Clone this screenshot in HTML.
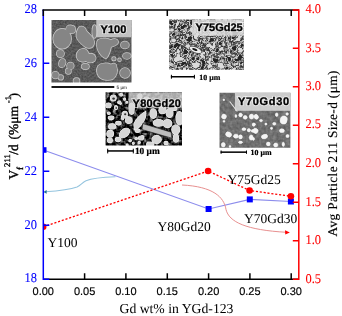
<!DOCTYPE html>
<html><head><meta charset="utf-8">
<style>
html,body{margin:0;padding:0;background:#fff;width:342px;height:316px;overflow:hidden}
svg{display:block;will-change:transform;text-rendering:geometricPrecision}
.sr{font-family:"Liberation Serif",serif}
.ss{font-family:"Liberation Sans",sans-serif}
.lab{font-weight:bold;fill:#000;stroke:#000;stroke-width:0.35px}
.halo{font-weight:bold;fill:#fff;stroke:#fff;stroke-opacity:0.6;stroke-width:2.2px;fill-opacity:0.6}
</style></head><body>
<svg width="342" height="316" viewBox="0 0 342 316">
<defs>
<filter id="soft" x="-5%" y="-5%" width="110%" height="110%"><feGaussianBlur stdDeviation="0.45"/></filter>
<filter id="n80" x="0" y="0" width="100%" height="100%" color-interpolation-filters="sRGB">
 <feTurbulence type="fractalNoise" baseFrequency="0.3" numOctaves="2" seed="3"/>
 <feColorMatrix type="matrix" values="1.5 0 0 0 -0.62  1.5 0 0 0 -0.62  1.5 0 0 0 -0.62  0 0 0 0 1"/>
</filter>
<filter id="n100" x="0" y="0" width="100%" height="100%" color-interpolation-filters="sRGB">
 <feTurbulence type="fractalNoise" baseFrequency="0.55" numOctaves="2" seed="5"/>
 <feColorMatrix type="matrix" values="0.22 0 0 0 0.24  0.22 0 0 0 0.24  0.22 0 0 0 0.24  0 0 0 0 1"/>
</filter>
<filter id="n70" x="0" y="0" width="100%" height="100%" color-interpolation-filters="sRGB">
 <feTurbulence type="fractalNoise" baseFrequency="0.3" numOctaves="2" seed="9"/>
 <feColorMatrix type="matrix" values="0.25 0 0 0 0.31  0.25 0 0 0 0.31  0.25 0 0 0 0.31  0 0 0 0 1"/>
</filter>
<filter id="speck" x="0" y="0" width="100%" height="100%" color-interpolation-filters="sRGB">
 <feTurbulence type="fractalNoise" baseFrequency="0.16" numOctaves="3" seed="4"/>
 <feColorMatrix type="matrix" values="3 0 0 0 -1  3 0 0 0 -1  3 0 0 0 -1  0 0 0 0 1"/>
 <feComponentTransfer><feFuncR type="table" tableValues="0.15 0.52 0.86 0.45 0.18 0.52 0.86"/><feFuncG type="table" tableValues="0.15 0.52 0.86 0.45 0.18 0.52 0.86"/><feFuncB type="table" tableValues="0.15 0.52 0.86 0.45 0.18 0.52 0.86"/></feComponentTransfer>
 <feGaussianBlur stdDeviation="0.5"/>
</filter>
</defs>
<rect width="342" height="316" fill="#fff"/>
<clipPath id="c100"><rect x="51.5" y="20" width="80" height="62.5"/></clipPath><g clip-path="url(#c100)"><g filter="url(#soft)"><rect x="51.5" y="20" width="80" height="62.5" fill="#575757" filter="url(#n100)"/><g fill="#c8c8c8" stroke="#c8c8c8" stroke-width="1.5"><ellipse cx="62.2" cy="38.8" rx="9.0" ry="10.0"/><ellipse cx="70.1" cy="29.3" rx="4.0" ry="4.0"/><path d="M79.5,27 C82.5,25.5 86,27.5 86,30.5 C88.5,33.5 92,36 93.5,39.5 C95,42.5 94,46 91.5,47.5 C88.5,48.5 85.5,47.5 84,46 C81,43.5 77,40 76.5,36.5 C76,33 77.5,29 79.5,27 Z"/><path d="M78,51.5 C80,48.5 84,48 86.5,50 C88.5,52 88.5,53.5 89,54 C91.5,53 94.5,54 95.5,57 C96.5,60 94,62.5 90,62.5 C88,62.5 86.5,61.5 86,61 C83,62.5 79,61.5 77.5,59 C76,56.5 76.5,53.5 78,51.5 Z"/><path d="M98,40 C102,37.5 108,38.5 111,40 C113,38.5 117,38.5 118,41 C119,44 115,46 111,47 C110,52 108,57 106,58.5 C102,57 99,53 97.5,49 C96.5,45 96.5,42 98,40 Z"/><ellipse cx="94.5" cy="31.5" rx="2.2" ry="6.5"/><path d="M98,66 C101,62.5 108,63 111,64.5 C114,62.5 117,64 116.5,67 C118,70 117,76 113,79 C108,81 101,80 98.5,76 C96.5,73 96.5,69 98,66 Z"/><ellipse cx="124.9" cy="45.0" rx="4.0" ry="3.5"/><ellipse cx="126.9" cy="55.9" rx="4.0" ry="3.0"/><ellipse cx="125.0" cy="73.0" rx="5.0" ry="5.0"/><ellipse cx="60.4" cy="53.6" rx="3.7" ry="3.7"/><ellipse cx="62.2" cy="63.1" rx="3.2" ry="4.3" transform="rotate(20 62.2 63.1)"/><ellipse cx="70.4" cy="65.9" rx="3.4" ry="3.4"/><ellipse cx="68.3" cy="71.3" rx="2.7" ry="2.7"/><ellipse cx="55.4" cy="75.1" rx="3.4" ry="3.4"/><ellipse cx="60.8" cy="77.4" rx="2.4" ry="2.4"/><ellipse cx="85.3" cy="66.5" rx="3.7" ry="2.7"/><ellipse cx="76.5" cy="81.0" rx="3.0" ry="3.0"/><ellipse cx="113.9" cy="58.8" rx="1.8" ry="1.8"/><ellipse cx="119.5" cy="59.8" rx="1.5" ry="1.5"/><ellipse cx="73.0" cy="29.5" rx="2.2" ry="3.5"/></g><g fill="#858585"><ellipse cx="62.2" cy="38.8" rx="9.0" ry="10.0"/><ellipse cx="70.1" cy="29.3" rx="4.0" ry="4.0"/><path d="M79.5,27 C82.5,25.5 86,27.5 86,30.5 C88.5,33.5 92,36 93.5,39.5 C95,42.5 94,46 91.5,47.5 C88.5,48.5 85.5,47.5 84,46 C81,43.5 77,40 76.5,36.5 C76,33 77.5,29 79.5,27 Z"/><path d="M78,51.5 C80,48.5 84,48 86.5,50 C88.5,52 88.5,53.5 89,54 C91.5,53 94.5,54 95.5,57 C96.5,60 94,62.5 90,62.5 C88,62.5 86.5,61.5 86,61 C83,62.5 79,61.5 77.5,59 C76,56.5 76.5,53.5 78,51.5 Z"/><path d="M98,40 C102,37.5 108,38.5 111,40 C113,38.5 117,38.5 118,41 C119,44 115,46 111,47 C110,52 108,57 106,58.5 C102,57 99,53 97.5,49 C96.5,45 96.5,42 98,40 Z"/><ellipse cx="94.5" cy="31.5" rx="2.2" ry="6.5"/><path d="M98,66 C101,62.5 108,63 111,64.5 C114,62.5 117,64 116.5,67 C118,70 117,76 113,79 C108,81 101,80 98.5,76 C96.5,73 96.5,69 98,66 Z"/><ellipse cx="124.9" cy="45.0" rx="4.0" ry="3.5"/><ellipse cx="126.9" cy="55.9" rx="4.0" ry="3.0"/><ellipse cx="125.0" cy="73.0" rx="5.0" ry="5.0"/><ellipse cx="60.4" cy="53.6" rx="3.7" ry="3.7"/><ellipse cx="62.2" cy="63.1" rx="3.2" ry="4.3" transform="rotate(20 62.2 63.1)"/><ellipse cx="70.4" cy="65.9" rx="3.4" ry="3.4"/><ellipse cx="68.3" cy="71.3" rx="2.7" ry="2.7"/><ellipse cx="55.4" cy="75.1" rx="3.4" ry="3.4"/><ellipse cx="60.8" cy="77.4" rx="2.4" ry="2.4"/><ellipse cx="85.3" cy="66.5" rx="3.7" ry="2.7"/><ellipse cx="76.5" cy="81.0" rx="3.0" ry="3.0"/><ellipse cx="113.9" cy="58.8" rx="1.8" ry="1.8"/><ellipse cx="119.5" cy="59.8" rx="1.5" ry="1.5"/><ellipse cx="73.0" cy="29.5" rx="2.2" ry="3.5"/></g></g><rect x="96.3" y="20" width="35.2" height="17.3" fill="#d0d0d0" fill-opacity="0.88"/></g><text x="100.6" y="33.2" class="ss halo" font-size="11">Y100</text><text x="100.6" y="33.2" class="ss lab" font-size="11">Y100</text><rect x="51.5" y="86.1" width="62.8" height="1.8" fill="#000"/><text x="116.6" y="88.7" class="ss" font-size="4.6" fill="#000">5 μm</text><clipPath id="c75"><rect x="169.2" y="19.5" width="74.6" height="50.3"/></clipPath><g clip-path="url(#c75)"><rect x="169.2" y="19.5" width="74.6" height="50.3" fill="#808080" filter="url(#speck)"/><ellipse cx="195.5" cy="49.9" rx="6.6" ry="2.9" transform="rotate(22 195.5 49.9)" fill="#eeeeee" stroke="#222" stroke-width="0.6"/><ellipse cx="194.8" cy="49.5" rx="2.8" ry="1.1" transform="rotate(22 194.8 49.5)" fill="#151515"/><rect x="192" y="19.5" width="52" height="16.2" fill="#dedede" fill-opacity="0.85"/></g><text x="195.6" y="30.8" class="ss halo" font-size="11">Y75Gd25</text><text x="195.6" y="30.8" class="ss lab" font-size="11">Y75Gd25</text><g fill="#000"><rect x="170.9" y="76.0" width="24.0" height="1.5"/><rect x="170.9" y="74.8" width="1" height="3.9"/><rect x="193.9" y="74.8" width="1" height="3.9"/></g><text x="199.3" y="79.5" class="sr" font-weight="bold" font-size="7.9" fill="#000" stroke="#000" stroke-width="0.2">10 μm</text><clipPath id="c80"><rect x="105.6" y="92.2" width="76.4" height="53.4"/></clipPath><g clip-path="url(#c80)"><g filter="url(#soft)"><rect x="105.6" y="92.2" width="76.4" height="53.4" fill="#262626" filter="url(#n80)"/><g fill="#eeeeee" stroke="#eeeeee" stroke-width="1.2"><ellipse cx="113.3" cy="97.9" rx="2.8" ry="2.9"/><ellipse cx="108.5" cy="105.4" rx="2.6" ry="2.3"/><ellipse cx="116.0" cy="107.6" rx="1.5" ry="2.0"/><ellipse cx="119.3" cy="102.3" rx="1.6" ry="1.4"/><ellipse cx="121.1" cy="94.7" rx="1.4" ry="1.4"/><ellipse cx="124.6" cy="99.2" rx="1.0" ry="1.0"/><ellipse cx="124.9" cy="113.7" rx="2.4" ry="2.4"/><ellipse cx="108.8" cy="113.3" rx="1.4" ry="1.2"/><ellipse cx="111.1" cy="117.8" rx="2.8" ry="1.8"/><ellipse cx="131.6" cy="108.7" rx="2.6" ry="5.6"/><ellipse cx="128.2" cy="118.3" rx="2.0" ry="1.4"/><ellipse cx="126.8" cy="102.3" rx="0.9" ry="0.9"/><ellipse cx="120.6" cy="103.6" rx="0.8" ry="0.8"/><ellipse cx="112.2" cy="126.4" rx="3.5" ry="2.6"/><ellipse cx="110.2" cy="133.7" rx="3.3" ry="3.3"/><ellipse cx="109.9" cy="140.2" rx="2.4" ry="2.4"/><ellipse cx="118.4" cy="123.1" rx="2.7" ry="1.8"/><ellipse cx="124.5" cy="133.0" rx="5.8" ry="3.8" transform="rotate(-40 124.5 133.0)"/><ellipse cx="118.0" cy="139.5" rx="2.6" ry="2.2"/><ellipse cx="128.8" cy="120.3" rx="3.2" ry="3.2"/><ellipse cx="124.4" cy="116.5" rx="2.9" ry="1.5"/><path d="M134.5,129.5 L134,124 C135.5,119.5 140,115 145.5,111.5 C146.5,115.5 145,120 141.5,124.5 C139,127.5 136.5,129.5 134.5,129.5 Z"/><ellipse cx="130.2" cy="140.5" rx="1.2" ry="1.1"/><ellipse cx="133.3" cy="143.3" rx="1.0" ry="1.0"/><ellipse cx="136.2" cy="138.6" rx="1.3" ry="1.1"/><ellipse cx="139.3" cy="142.4" rx="1.0" ry="1.0"/><ellipse cx="142.4" cy="136.8" rx="1.2" ry="1.2"/><ellipse cx="127.2" cy="145.0" rx="1.0" ry="0.8"/><ellipse cx="122.7" cy="118.5" rx="0.9" ry="1.4"/><ellipse cx="137.6" cy="130.8" rx="2.4" ry="1.6"/><ellipse cx="153.3" cy="113.6" rx="3.3" ry="4.7"/><ellipse cx="162.5" cy="110.3" rx="3.6" ry="3.4"/><ellipse cx="169.6" cy="113.0" rx="3.4" ry="4.4"/><ellipse cx="174.0" cy="108.5" rx="3.0" ry="2.0"/><ellipse cx="158.6" cy="122.9" rx="5.3" ry="3.3"/><ellipse cx="167.5" cy="123.6" rx="4.3" ry="4.0"/><ellipse cx="175.8" cy="129.6" rx="4.0" ry="4.6"/><ellipse cx="179.5" cy="118.3" rx="3.5" ry="6.6"/><ellipse cx="156.6" cy="139.5" rx="4.6" ry="4.0"/><ellipse cx="150.0" cy="144.5" rx="3.4" ry="2.5"/><ellipse cx="175.9" cy="138.2" rx="2.6" ry="4.0"/><ellipse cx="141.0" cy="138.0" rx="2.5" ry="2.0"/><ellipse cx="166.0" cy="143.0" rx="2.0" ry="1.6"/><ellipse cx="146.5" cy="101.0" rx="3.0" ry="4.0"/><ellipse cx="140.0" cy="96.0" rx="2.0" ry="2.0"/></g><g fill="#d6d6d6"><ellipse cx="113.3" cy="97.9" rx="2.8" ry="2.9"/><ellipse cx="108.5" cy="105.4" rx="2.6" ry="2.3"/><ellipse cx="116.0" cy="107.6" rx="1.5" ry="2.0"/><ellipse cx="119.3" cy="102.3" rx="1.6" ry="1.4"/><ellipse cx="121.1" cy="94.7" rx="1.4" ry="1.4"/><ellipse cx="124.6" cy="99.2" rx="1.0" ry="1.0"/><ellipse cx="124.9" cy="113.7" rx="2.4" ry="2.4"/><ellipse cx="108.8" cy="113.3" rx="1.4" ry="1.2"/><ellipse cx="111.1" cy="117.8" rx="2.8" ry="1.8"/><ellipse cx="131.6" cy="108.7" rx="2.6" ry="5.6"/><ellipse cx="128.2" cy="118.3" rx="2.0" ry="1.4"/><ellipse cx="126.8" cy="102.3" rx="0.9" ry="0.9"/><ellipse cx="120.6" cy="103.6" rx="0.8" ry="0.8"/><ellipse cx="112.2" cy="126.4" rx="3.5" ry="2.6"/><ellipse cx="110.2" cy="133.7" rx="3.3" ry="3.3"/><ellipse cx="109.9" cy="140.2" rx="2.4" ry="2.4"/><ellipse cx="118.4" cy="123.1" rx="2.7" ry="1.8"/><ellipse cx="124.5" cy="133.0" rx="5.8" ry="3.8" transform="rotate(-40 124.5 133.0)"/><ellipse cx="118.0" cy="139.5" rx="2.6" ry="2.2"/><ellipse cx="128.8" cy="120.3" rx="3.2" ry="3.2"/><ellipse cx="124.4" cy="116.5" rx="2.9" ry="1.5"/><path d="M134.5,129.5 L134,124 C135.5,119.5 140,115 145.5,111.5 C146.5,115.5 145,120 141.5,124.5 C139,127.5 136.5,129.5 134.5,129.5 Z"/><ellipse cx="130.2" cy="140.5" rx="1.2" ry="1.1"/><ellipse cx="133.3" cy="143.3" rx="1.0" ry="1.0"/><ellipse cx="136.2" cy="138.6" rx="1.3" ry="1.1"/><ellipse cx="139.3" cy="142.4" rx="1.0" ry="1.0"/><ellipse cx="142.4" cy="136.8" rx="1.2" ry="1.2"/><ellipse cx="127.2" cy="145.0" rx="1.0" ry="0.8"/><ellipse cx="122.7" cy="118.5" rx="0.9" ry="1.4"/><ellipse cx="137.6" cy="130.8" rx="2.4" ry="1.6"/><ellipse cx="153.3" cy="113.6" rx="3.3" ry="4.7"/><ellipse cx="162.5" cy="110.3" rx="3.6" ry="3.4"/><ellipse cx="169.6" cy="113.0" rx="3.4" ry="4.4"/><ellipse cx="174.0" cy="108.5" rx="3.0" ry="2.0"/><ellipse cx="158.6" cy="122.9" rx="5.3" ry="3.3"/><ellipse cx="167.5" cy="123.6" rx="4.3" ry="4.0"/><ellipse cx="175.8" cy="129.6" rx="4.0" ry="4.6"/><ellipse cx="179.5" cy="118.3" rx="3.5" ry="6.6"/><ellipse cx="156.6" cy="139.5" rx="4.6" ry="4.0"/><ellipse cx="150.0" cy="144.5" rx="3.4" ry="2.5"/><ellipse cx="175.9" cy="138.2" rx="2.6" ry="4.0"/><ellipse cx="141.0" cy="138.0" rx="2.5" ry="2.0"/><ellipse cx="166.0" cy="143.0" rx="2.0" ry="1.6"/><ellipse cx="146.5" cy="101.0" rx="3.0" ry="4.0"/><ellipse cx="140.0" cy="96.0" rx="2.0" ry="2.0"/></g><path d="M142.7,123.6 L171.2,132.2 L171.9,138.2 L142,129.6 Z" fill="#bcbcbc" stroke="#1a1a1a" stroke-width="0.6" stroke-linejoin="round"/><g fill="#303030"><ellipse cx="113.6" cy="98.6" rx="1.3" ry="1.2"/><ellipse cx="116.2" cy="108.0" rx="0.7" ry="0.9"/><ellipse cx="125.2" cy="114.3" rx="1.1" ry="1.0"/></g></g><rect x="128.5" y="92.2" width="54" height="15.5" fill="#d8d8d8" fill-opacity="0.78"/></g><text x="132.6" y="106.6" class="ss halo" font-size="11" letter-spacing="0.2">Y80Gd20</text><text x="132.6" y="106.6" class="ss lab" font-size="11" letter-spacing="0.2">Y80Gd20</text><g fill="#000"><rect x="107.2" y="150.2" width="26.6" height="1.5"/><rect x="107.2" y="148.7" width="1" height="4.7"/><rect x="132.8" y="148.7" width="1" height="4.7"/></g><text x="134.9" y="154.3" class="sr" font-weight="bold" font-size="9.4" fill="#000" stroke="#000" stroke-width="0.2">10 μm</text><clipPath id="c70"><rect x="219.5" y="92.8" width="70.9" height="55"/></clipPath><g clip-path="url(#c70)"><g filter="url(#soft)"><rect x="219.5" y="92.8" width="70.9" height="55" fill="#858585" filter="url(#n70)"/><path d="M229.7,101.5 L237.3,111.5" stroke="#e8e8e8" stroke-width="1.1"/><g fill="#dadada" stroke="#dadada" stroke-width="0.6"><ellipse cx="224.0" cy="116.6" rx="2.4" ry="2.4" transform="rotate(30 224.0 116.6)"/><ellipse cx="224.0" cy="121.3" rx="1.0" ry="0.9"/><ellipse cx="235.9" cy="116.0" rx="0.9" ry="1.5"/><ellipse cx="240.6" cy="115.0" rx="1.8" ry="1.9" transform="rotate(20 240.6 115.0)"/><ellipse cx="245.2" cy="117.3" rx="1.9" ry="1.9"/><ellipse cx="251.5" cy="116.6" rx="2.2" ry="2.5"/><ellipse cx="253.9" cy="124.3" rx="1.5" ry="1.3"/><ellipse cx="243.9" cy="129.2" rx="1.9" ry="1.4"/><ellipse cx="248.9" cy="130.3" rx="1.6" ry="1.7"/><ellipse cx="253.1" cy="130.9" rx="1.9" ry="1.3"/><ellipse cx="228.6" cy="134.5" rx="3.0" ry="2.4" transform="rotate(25 228.6 134.5)"/><ellipse cx="235.9" cy="136.2" rx="2.4" ry="2.0"/><ellipse cx="240.5" cy="136.9" rx="1.9" ry="2.1"/><ellipse cx="251.2" cy="137.5" rx="1.9" ry="2.6"/><ellipse cx="240.5" cy="142.2" rx="1.9" ry="1.2"/><ellipse cx="223.3" cy="144.8" rx="2.0" ry="2.2"/><ellipse cx="230.0" cy="146.5" rx="1.0" ry="1.0"/><ellipse cx="256.2" cy="116.8" rx="2.1" ry="2.5" transform="rotate(-40 256.2 116.8)"/><ellipse cx="261.0" cy="120.6" rx="1.5" ry="1.1"/><ellipse cx="253.7" cy="124.8" rx="1.3" ry="1.5"/><ellipse cx="276.7" cy="114.7" rx="1.3" ry="1.8"/><ellipse cx="283.7" cy="120.0" rx="3.4" ry="4.1" transform="rotate(15 283.7 120.0)"/><ellipse cx="287.1" cy="114.0" rx="1.3" ry="1.3"/><ellipse cx="265.9" cy="124.1" rx="1.1" ry="1.1"/><ellipse cx="274.3" cy="123.8" rx="1.6" ry="1.4"/><ellipse cx="255.5" cy="130.8" rx="2.6" ry="2.4" transform="rotate(30 255.5 130.8)"/><ellipse cx="281.9" cy="130.7" rx="2.5" ry="1.9"/><ellipse cx="264.5" cy="136.6" rx="3.1" ry="2.1" transform="rotate(-15 264.5 136.6)"/><ellipse cx="253.4" cy="139.0" rx="1.1" ry="1.4"/><ellipse cx="268.3" cy="144.0" rx="1.9" ry="1.9"/><ellipse cx="275.7" cy="145.0" rx="2.1" ry="2.1"/><ellipse cx="283.3" cy="144.3" rx="1.2" ry="2.1"/><ellipse cx="287.5" cy="136.0" rx="1.6" ry="1.6"/><ellipse cx="271.5" cy="128.3" rx="1.1" ry="1.1"/><ellipse cx="223.8" cy="99.8" rx="0.9" ry="0.9"/></g><g fill="#f4f4f4"><ellipse cx="224.0" cy="116.6" rx="2.4" ry="2.4" transform="rotate(30 224.0 116.6)"/><ellipse cx="224.0" cy="121.3" rx="1.0" ry="0.9"/><ellipse cx="235.9" cy="116.0" rx="0.9" ry="1.5"/><ellipse cx="240.6" cy="115.0" rx="1.8" ry="1.9" transform="rotate(20 240.6 115.0)"/><ellipse cx="245.2" cy="117.3" rx="1.9" ry="1.9"/><ellipse cx="251.5" cy="116.6" rx="2.2" ry="2.5"/><ellipse cx="253.9" cy="124.3" rx="1.5" ry="1.3"/><ellipse cx="243.9" cy="129.2" rx="1.9" ry="1.4"/><ellipse cx="248.9" cy="130.3" rx="1.6" ry="1.7"/><ellipse cx="253.1" cy="130.9" rx="1.9" ry="1.3"/><ellipse cx="228.6" cy="134.5" rx="3.0" ry="2.4" transform="rotate(25 228.6 134.5)"/><ellipse cx="235.9" cy="136.2" rx="2.4" ry="2.0"/><ellipse cx="240.5" cy="136.9" rx="1.9" ry="2.1"/><ellipse cx="251.2" cy="137.5" rx="1.9" ry="2.6"/><ellipse cx="240.5" cy="142.2" rx="1.9" ry="1.2"/><ellipse cx="223.3" cy="144.8" rx="2.0" ry="2.2"/><ellipse cx="230.0" cy="146.5" rx="1.0" ry="1.0"/><ellipse cx="256.2" cy="116.8" rx="2.1" ry="2.5" transform="rotate(-40 256.2 116.8)"/><ellipse cx="261.0" cy="120.6" rx="1.5" ry="1.1"/><ellipse cx="253.7" cy="124.8" rx="1.3" ry="1.5"/><ellipse cx="276.7" cy="114.7" rx="1.3" ry="1.8"/><ellipse cx="283.7" cy="120.0" rx="3.4" ry="4.1" transform="rotate(15 283.7 120.0)"/><ellipse cx="287.1" cy="114.0" rx="1.3" ry="1.3"/><ellipse cx="265.9" cy="124.1" rx="1.1" ry="1.1"/><ellipse cx="274.3" cy="123.8" rx="1.6" ry="1.4"/><ellipse cx="255.5" cy="130.8" rx="2.6" ry="2.4" transform="rotate(30 255.5 130.8)"/><ellipse cx="281.9" cy="130.7" rx="2.5" ry="1.9"/><ellipse cx="264.5" cy="136.6" rx="3.1" ry="2.1" transform="rotate(-15 264.5 136.6)"/><ellipse cx="253.4" cy="139.0" rx="1.1" ry="1.4"/><ellipse cx="268.3" cy="144.0" rx="1.9" ry="1.9"/><ellipse cx="275.7" cy="145.0" rx="2.1" ry="2.1"/><ellipse cx="283.3" cy="144.3" rx="1.2" ry="2.1"/><ellipse cx="287.5" cy="136.0" rx="1.6" ry="1.6"/><ellipse cx="271.5" cy="128.3" rx="1.1" ry="1.1"/><ellipse cx="223.8" cy="99.8" rx="0.9" ry="0.9"/></g></g><rect x="235" y="92.8" width="55.5" height="18" fill="#dcdcdc" fill-opacity="0.85"/></g><text x="238" y="105.1" class="ss halo" font-size="11" letter-spacing="0.68">Y70Gd30</text><text x="238" y="105.1" class="ss lab" font-size="11" letter-spacing="0.68">Y70Gd30</text><g fill="#000"><rect x="220.6" y="151.4" width="26.4" height="1.5"/><rect x="220.6" y="150.5" width="1" height="3.3"/><rect x="246.0" y="150.5" width="1" height="3.3"/></g><text x="250.6" y="155.2" class="sr" font-weight="bold" font-size="7.9" fill="#000" stroke="#000" stroke-width="0.2">10 μm</text>
<polyline points="43.3,150 208.6,209 249.8,199.4 290.9,201.5" fill="none" stroke="#8c8cec" stroke-width="1.1"/>
<rect x="43.3" y="147.2" width="3.2" height="5.6" fill="#0000ff"/>
<rect x="205.6" y="206" width="6" height="6" fill="#0000ff"/>
<rect x="246.8" y="196.4" width="6" height="6" fill="#0000ff"/>
<rect x="287.9" y="198.5" width="6" height="6" fill="#0000ff"/>

<polyline points="43.3,226.8 208.1,171 249.6,190.5 290.9,196.3" fill="none" stroke="#ff0000" stroke-width="1.3" stroke-dasharray="2.1 1.8"/>
<path d="M43.3,223.6 A3.2,3.2 0 0 1 43.3,230 Z" fill="#ff0000"/>
<circle cx="208.1" cy="171" r="3.3" fill="#ff0000"/>
<circle cx="249.6" cy="190.5" r="3.3" fill="#ff0000"/>
<circle cx="290.9" cy="196.3" r="3.3" fill="#ff0000"/>

<!-- annotation curves -->
<path d="M115.5,176.8 C104,177.2 92,178.3 86,180.8 C82,182.5 81,185.3 77,186.9 C70,189.4 58,190.8 45,191.8" fill="none" stroke="#94c4de" stroke-width="1.1"/>
<path d="M43.4,191.9 L46.6,190 L46.6,193.7 Z" fill="#1f6f94"/>
<path d="M182,185 C213,186.5 224,197 226,209.5 C229,222 246,230 286.5,232.3" fill="none" stroke="#e89090" stroke-width="1"/>
<path d="M289.8,232.4 L285,230.3 L285.3,234.5 Z" fill="#ff0000"/>

<!-- labels -->
<g class="sr" font-size="13.5" fill="#000">
<text x="47.5" y="246.5">Y100</text>
<text x="157.6" y="230.7">Y80Gd20</text>
<text x="227.6" y="184">Y75Gd25</text>
<text x="244" y="223.4">Y70Gd30</text>
</g>

<!-- axes -->
<g stroke-width="1.5" fill="none">
 <path d="M43,279.3 H299" stroke="#000"/>
 <path d="M84.6,279.3 V273.3 M125.9,279.3 V273.3 M167.3,279.3 V273.3 M208.6,279.3 V273.3 M249.9,279.3 V273.3 M291.2,279.3 V273.3" stroke="#000"/>
 <path d="M43.3,9.5 V280" stroke="#0000ff"/>
 <path d="M43.3,63.3 H49.3 M43.3,117.3 H49.3 M43.3,171.3 H49.3 M43.3,225.3 H49.3 M43.3,279.3 H49.3" stroke="#0000ff"/>
 <path d="M42.5,10 H299" stroke="#000"/>
 <path d="M43.3,10 V16 M84.6,10 V16 M125.9,10 V16 M167.3,10 V16 M208.6,10 V16 M249.9,10 V16 M291.2,10 V16" stroke="#000"/>
 <path d="M298.8,9.3 V280" stroke="#ff0000"/>
 <path d="M298.8,10 H292.8 M298.8,48.3 H292.8 M298.8,86.8 H292.8 M298.8,125.3 H292.8 M298.8,163.8 H292.8 M298.8,202.3 H292.8 M298.8,240.8 H292.8 M298.8,279.3 H292.8" stroke="#ff0000"/>
</g>

<g class="sr" font-size="13.4" fill="#0000ff" stroke="#0000ff" stroke-width="0.08" text-anchor="end">
 <text transform="translate(37,13.2) scale(0.93,1)">28</text>
 <text transform="translate(37,67) scale(0.93,1)">26</text>
 <text transform="translate(37,121) scale(0.93,1)">24</text>
 <text transform="translate(37,175) scale(0.93,1)">22</text>
 <text transform="translate(37,229) scale(0.93,1)">20</text>
 <text transform="translate(37,282) scale(0.93,1)">18</text>
</g>
<g class="sr" font-size="13.4" fill="#ff0000" stroke="#ff0000" stroke-width="0.08">
 <text transform="translate(305.5,13.2) scale(0.93,1)">4.0</text>
 <text transform="translate(305.5,51.6) scale(0.93,1)">3.5</text>
 <text transform="translate(305.5,90) scale(0.93,1)">3.0</text>
 <text transform="translate(305.5,128.4) scale(0.93,1)">2.5</text>
 <text transform="translate(305.5,167) scale(0.93,1)">2.0</text>
 <text transform="translate(305.5,205.5) scale(0.93,1)">1.5</text>
 <text transform="translate(305.5,244) scale(0.93,1)">1.0</text>
 <text transform="translate(305.5,282.6) scale(0.93,1)">0.5</text>
</g>
<g class="ss" font-size="11" fill="#000" stroke="#000" stroke-width="0.15" text-anchor="middle">
 <text x="43.3" y="294.5">0.00</text>
 <text x="84.6" y="294.5">0.05</text>
 <text x="125.9" y="294.5">0.10</text>
 <text x="167.3" y="294.5">0.15</text>
 <text x="208.6" y="294.5">0.20</text>
 <text x="249.9" y="294.5">0.25</text>
 <text x="291.2" y="294.5">0.30</text>
</g>
<text x="119.5" y="313" class="sr" font-size="13.7" fill="#000">Gd wt% in YGd-123</text>
<g transform="translate(17.5,0) rotate(-90)" class="sr" fill="#000" font-size="13.5" stroke="#000" stroke-width="0.35"><text x="-179.4" y="0">V</text><text x="-170" y="5.6" font-size="9">f</text><text x="-166.9" y="-7.1" font-size="8.6">211</text><text x="-154.8" y="0">/d</text><text x="-139.6" y="0">(%μm</text><text x="-103.2" y="-6.2" font-size="8.6">-1</text><text x="-97.6" y="0">)</text></g>
<text transform="translate(336.5,236.5) rotate(-90)" class="sr" font-size="13.3" letter-spacing="0.38" fill="#000" stroke="#000" stroke-width="0.15">Avg Particle 211 Size-d (μm)</text>

</svg>
</body></html>
